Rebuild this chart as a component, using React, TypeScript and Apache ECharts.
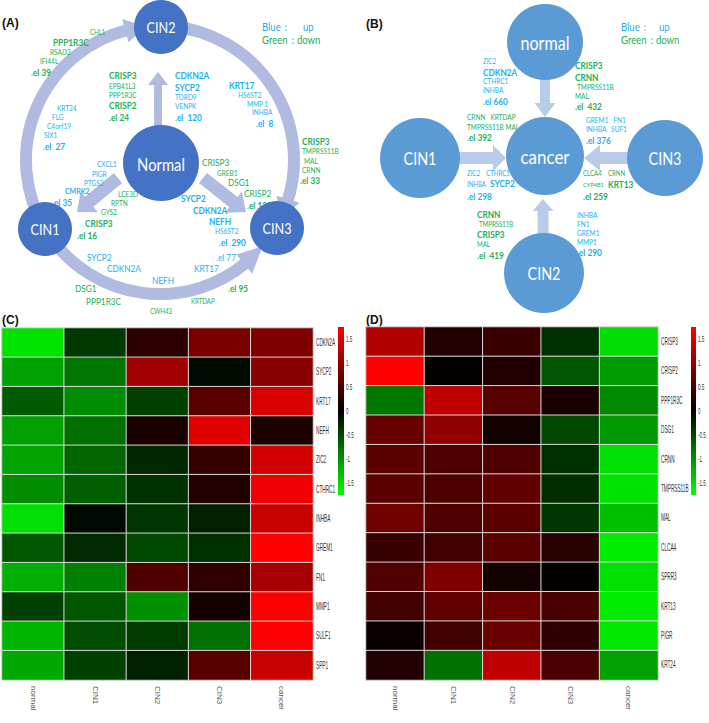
import React, { useEffect, useRef } from "react";
import * as echarts from "echarts";

// ---------- DATA ----------
const stages = ["normal", "CIN1", "CIN2", "CIN3", "cancer"];
const genesC = ["CDKN2A", "SYCP2", "KRT17", "NEFH", "ZIC2", "CTHRC1", "INHBA", "GREM1", "FN1", "MMP1", "SULF1", "SPP1"];
const genesD = ["CRISP3", "CRISP2", "PPP1R3C", "DSG1", "CRNN", "TMPRSS11B", "MAL", "CLCA4", "SPRR3", "KRT13", "PIGR", "KRT24"];
// rows follow genes, columns follow stages
const valuesC = [
  [-1.55, -0.4, 0.3, 0.84, 0.88],
  [-1.1, -0.82, 1.1, -0.07, 0.93],
  [-0.62, -0.96, -0.44, 0.62, 1.48],
  [-1.1, -0.77, 0.18, 1.54, 0.2],
  [-1.12, -0.71, -0.27, 0.38, 1.44],
  [-0.96, -0.66, -0.33, 0.22, 1.65],
  [-1.54, -0.07, -0.38, -0.22, 1.37],
  [-0.6, -0.29, -0.5, -0.33, 1.75],
  [-1.2, -0.88, 0.55, 0.33, 1.15],
  [-0.44, -0.6, -0.99, 0.14, 1.72],
  [-1.24, -0.52, -0.41, -0.77, 1.75],
  [-1.15, -0.44, -0.22, 0.6, 1.37],
];
const valuesD = [
  [1.21, 0.22, 0.4, -0.33, -1.51],
  [1.75, 0.03, 0.22, -0.6, -1.07],
  [-0.82, 1.32, 0.6, 0.18, -0.93],
  [0.69, 0.99, 0.11, -0.49, -1.04],
  [0.62, 0.55, 0.55, -0.33, -1.54],
  [0.62, 0.52, 0.66, -0.3, -1.56],
  [0.77, 0.55, 0.62, -0.38, -1.32],
  [0.4, 0.44, 0.62, 0.27, -1.62],
  [0.55, 0.88, 0.14, 0.02, -1.54],
  [0.44, 0.66, 0.73, 0.51, -1.62],
  [0.07, 0.44, 0.73, 0.33, -1.59],
  [0.22, -0.77, 1.32, 0.51, -1.1],
];
const colorbarTicks = [-1.5, -1, -0.5, 0, 0.5, 1, 1.5];
const colorMin = -1.75;
const colorMax = 1.75;

// ---------- STYLE ----------
const BLUE = "#1CB0EE";
const GREEN = "#22B05A";
const FONT = "Lato, 'Open Sans', sans-serif";
const ARIAL = "'Liberation Sans', Arial, sans-serif";
const A_CIRCLE = "#4472C4";
const B_CIRCLE = "#5B9BD5";
const A_ARROW = "#B1BBE1";
const B_ARROW = "#B8CCEA";
const SQ = 0.87; // horizontal squeeze to imitate a narrower face

function txt(text: string, x: number, y: number, color: string, size: number, bold = false, align = "left") {
  return {
    type: "text",
    x,
    y,
    scaleX: SQ,
    silent: true,
    style: {
      text,
      fill: color,
      fontSize: size,
      fontWeight: bold ? "bold" : "normal",
      fontFamily: FONT,
      align,
      verticalAlign: "middle",
    },
  };
}

function narrow(text: string, x: number, y: number, size: number, sx: number, color = "#333") {
  return {
    type: "text",
    x,
    y,
    scaleX: sx,
    silent: true,
    style: { text, fill: color, fontSize: size, fontFamily: ARIAL, align: "left", verticalAlign: "middle" },
  };
}

function circle(cx: number, cy: number, r: number, color: string, label: string, size: number) {
  return [
    { type: "circle", shape: { cx, cy, r }, style: { fill: color }, silent: true },
    txt(label, cx, cy + 1, "#ffffff", size, false, "center"),
  ];
}

function blockArrow(x1: number, y1: number, x2: number, y2: number, sw: number, hw: number, hl: number, color: string) {
  const dx = x2 - x1, dy = y2 - y1, L = Math.hypot(dx, dy);
  const ux = dx / L, uy = dy / L, px = -uy, py = ux;
  const bx = x2 - ux * hl, by = y2 - uy * hl;
  const pts = [
    [x1 + (px * sw) / 2, y1 + (py * sw) / 2],
    [bx + (px * sw) / 2, by + (py * sw) / 2],
    [bx + (px * hw) / 2, by + (py * hw) / 2],
    [x2, y2],
    [bx - (px * hw) / 2, by - (py * hw) / 2],
    [bx - (px * sw) / 2, by - (py * sw) / 2],
    [x1 - (px * sw) / 2, y1 - (py * sw) / 2],
  ];
  return { type: "polygon", shape: { points: pts }, style: { fill: color }, silent: true };
}

const RAD = Math.PI / 180;
function arcBand(cx: number, cy: number, r: number, a1: number, a2: number, w: number, color: string) {
  return {
    type: "arc",
    shape: { cx, cy, r, startAngle: a1 * RAD, endAngle: a2 * RAD, clockwise: true },
    style: { stroke: color, lineWidth: w, fill: null },
    silent: true,
  };
}
function arcHead(cx: number, cy: number, r: number, aBase: number, aTip: number, hw: number, color: string) {
  const p = (a: number, rr: number) => [cx + rr * Math.cos(a * RAD), cy + rr * Math.sin(a * RAD)];
  return {
    type: "polygon",
    shape: { points: [p(aBase, r + hw / 2), p(aTip, r), p(aBase, r - hw / 2)] },
    style: { fill: color },
    silent: true,
  };
}

function buildGraphics() {
  const els: any[] = [];
  // ---- Panel A shapes ----
  const cx = 160, cy = 160, R = 134;
  els.push(arcBand(cx, cy, R, 150, 256, 12, A_ARROW));
  els.push(arcHead(cx, cy, R, 255, 264, 24, A_ARROW));
  els.push(arcBand(cx, cy, R, 275, 378, 12, A_ARROW));
  els.push(arcHead(cx, cy, R, 377, 386, 24, A_ARROW));
  els.push(arcBand(cx, cy, R, 50, 145, 12, A_ARROW));
  els.push(arcHead(cx, cy, R, 51, 40, 25, A_ARROW));
  els.push(blockArrow(158, 126, 158, 72, 8, 20, 13, A_ARROW));
  els.push(blockArrow(118, 178, 77, 212, 13, 27, 16, A_ARROW));
  els.push(blockArrow(203, 178, 246, 212, 13, 27, 16, A_ARROW));
  // ---- Panel B shapes ----
  els.push(blockArrow(545, 78, 545, 117, 10, 21, 14, B_ARROW));
  els.push(blockArrow(459, 158, 506, 158, 12, 26, 13, B_ARROW));
  els.push(blockArrow(630, 158, 584, 158, 12, 26, 16, B_ARROW));
  els.push(blockArrow(543, 236, 543, 199, 11, 21, 12, B_ARROW));

  // ---- Panel A texts ----
  const T = (t: string, x: number, y: number, c: string, s: number, b = false) => els.push(txt(t, x, y, c, s, b));
  els.push({ type: "text", x: 2, y: 23, silent: true, style: { text: "(A)", fill: "#111", fontSize: 12, fontWeight: "bold", fontFamily: ARIAL, verticalAlign: "middle" } });
  T("Blue：", 262, 27, BLUE, 11); T("up", 303, 27, BLUE, 11);
  T("Green：down", 262, 40, GREEN, 11);
  T("CHL1", 90, 32, GREEN, 7); T("PPP1R3C", 53, 42, GREEN, 9.5, true); T("RSAD2", 50, 52, GREEN, 7.5);
  T("IFI44L", 40, 61, GREEN, 7.5); T(".el 39", 31, 72, GREEN, 9.5, true);
  T("KRT24", 57, 108, BLUE, 7.5); T("FLG", 52, 117, BLUE, 7.5); T("C4orf19", 47, 126, BLUE, 7.5);
  T("SIX1", 44, 135, BLUE, 7.5); T(".el  27", 43, 146, BLUE, 9.5, true);
  T("CRISP3", 109, 75, GREEN, 9.5, true); T("EPB41L3", 109, 86, GREEN, 7.5); T("PPP1R3C", 109, 95, GREEN, 7.5);
  T("CRISP2", 109, 105, GREEN, 9.5, true); T(".el 24", 109, 117, GREEN, 9.5, true);
  T("CDKN2A", 175, 75, BLUE, 9.5, true); T("SYCP2", 175, 87, BLUE, 9.5, true); T("TDRD9", 175, 97, BLUE, 7.5);
  T("VENPK", 175, 106, BLUE, 7.5); T(".el  120", 175, 117, BLUE, 9.5, true);
  T("KRT17", 229, 85, BLUE, 9.5, true); T("HS6ST2", 238, 95, BLUE, 7.5); T("MMP 1", 247, 104, BLUE, 7.5);
  T("INHBA", 252, 112, BLUE, 7.5); T(".el  8", 256, 123, BLUE, 9.5, true);
  T("CRISP3", 302, 141, GREEN, 9.5, true); T("TMPRSS11B", 302, 151, GREEN, 7.5); T("MAL", 304, 161, GREEN, 7.5);
  T("CRNN", 302, 170, GREEN, 7.5); T(".el 33", 300, 180, GREEN, 9.5, true);
  T("CRISP3", 202, 162, GREEN, 9.5); T("GREB1", 217, 173, GREEN, 7.5); T("DSG1", 228, 182, GREEN, 9.5);
  T("CRISP2", 244, 193, GREEN, 9.5); T(".el 120", 247, 205, GREEN, 9.5, true);
  T("SYCP2", 181, 198, BLUE, 9.5, true); T("CDKN2A", 193, 210, BLUE, 9.5, true); T("NEFH", 209, 221, BLUE, 9.5, true);
  T("HS6ST2", 215, 231, BLUE, 7.5); T(".el  290", 219, 242, BLUE, 9.5, true);
  T(".el 77", 216, 257, BLUE, 9.5); T("KRT17", 194, 268, BLUE, 9.5); T("NEFH", 152, 280, BLUE, 9.5);
  T(".el 95", 228, 288, GREEN, 9.5, true); T("KRTDAP", 191, 301, GREEN, 7); T("CWH43", 150, 311, GREEN, 7);
  T("DSG1", 75, 288, GREEN, 9.5); T("PPP1R3C", 86, 301, GREEN, 9.5);
  T("SYCP2", 87, 257, BLUE, 9.5); T("CDKN2A", 107, 268, BLUE, 9.5);
  T("CXCL1", 97, 164, BLUE, 7.5); T("PIGR", 92, 174, BLUE, 7.5); T("PTGS2", 84, 183, BLUE, 7.5);
  T("CMRK2", 65, 191, BLUE, 8, true); T(".el 35", 52, 202, BLUE, 9.5, true);
  T("LCE3D", 118, 194, GREEN, 7.5); T("RPTN", 111, 203, GREEN, 7.5); T("GYS2", 101, 212, GREEN, 7.5);
  T("CRISP3", 85, 223, GREEN, 9.5, true); T(".el 16", 77, 235, GREEN, 9.5, true);

  // ---- Panel B texts ----
  els.push({ type: "text", x: 366, y: 24, silent: true, style: { text: "(B)", fill: "#111", fontSize: 12, fontWeight: "bold", fontFamily: ARIAL, verticalAlign: "middle" } });
  T("Blue：", 621, 27, BLUE, 11); T("up", 659, 27, BLUE, 11);
  T("Green：down", 621, 40, GREEN, 11);
  T("ZIC2", 483, 61, BLUE, 7); T("CDKN2A", 483, 72, BLUE, 9.5, true); T("CTHRC1", 483, 81, BLUE, 7.5);
  T("INHBA", 483, 90, BLUE, 7.5); T(".el 660", 483, 101, BLUE, 9.5, true);
  T("CRNN   KRTDAP", 467, 117, GREEN, 7.5); T("TMPRSS11B MAL", 467, 127, GREEN, 7.5); T(".el 392", 467, 137, GREEN, 9.5, true);
  T("CRISP3", 575, 65, GREEN, 9.5, true); T("CRNN", 575, 77, GREEN, 9.5, true); T("TMPRSS11B", 577, 87, GREEN, 7.5);
  T("MAL", 575, 96, GREEN, 7.5); T(".el  432", 575, 106, GREEN, 9.5, true);
  T("GREM1   FN1", 586, 120, BLUE, 7.5); T("INHBA   SUF1", 586, 129, BLUE, 7.5); T(".el 376", 586, 140, BLUE, 9.5, true);
  T("ZIC2    CTHRC1", 467, 173, BLUE, 7); T("INHBA", 467, 184, BLUE, 7); T("SYCP2", 490, 183, BLUE, 9.5, true);
  T(".el 298", 467, 196, BLUE, 9.5, true);
  T("CLCA4    CRNN", 583, 173, GREEN, 7); T("CYP4B1", 583, 184, GREEN, 6.5); T("KRT13", 608, 184, GREEN, 9.5, true);
  T(".el 259", 583, 196, GREEN, 9.5, true);
  T("INHBA", 577, 215, BLUE, 7.5); T("FN1", 577, 224, BLUE, 7.5); T("GREM1", 577, 233, BLUE, 7.5); T("MMP1", 577, 242, BLUE, 7.5);
  T(".el 290", 577, 252, BLUE, 9.5, true);
  T("CRNN", 477, 214, GREEN, 9.5, true); T("TMPRSS11B", 479, 224, GREEN, 7); T("CRISP3", 477, 234, GREEN, 9.5, true);
  T("MAL", 477, 244, GREEN, 7); T(".el  419", 477, 255, GREEN, 9.5, true);

  // ---- circles (on top) ----
  els.push(...circle(161, 27, 27, A_CIRCLE, "CIN2", 14.5));
  els.push(...circle(161, 163, 38, A_CIRCLE, "Normal", 17));
  els.push(...circle(45, 229, 27, A_CIRCLE, "CIN1", 14.5));
  els.push(...circle(277, 228, 27, A_CIRCLE, "CIN3", 14.5));
  els.push(...circle(545, 42, 38, B_CIRCLE, "normal", 18.5));
  els.push(...circle(545, 156, 39, B_CIRCLE, "cancer", 19.5));
  els.push(...circle(420, 158, 40, B_CIRCLE, "CIN1", 16.5));
  els.push(...circle(665, 158, 38, B_CIRCLE, "CIN3", 16.5));
  els.push(...circle(544, 273, 40, B_CIRCLE, "CIN2", 16.5));

  // ---- heatmap panel labels and colour bars ----
  els.push({ type: "text", x: 2, y: 320, silent: true, style: { text: "(C)", fill: "#111", fontSize: 12, fontWeight: "bold", fontFamily: ARIAL, verticalAlign: "middle" } });
  els.push({ type: "text", x: 366, y: 320, silent: true, style: { text: "(D)", fill: "#111", fontSize: 12, fontWeight: "bold", fontFamily: ARIAL, verticalAlign: "middle" } });
  const grad = () =>
    new echarts.graphic.LinearGradient(0, 0, 0, 1, [
      { offset: 0, color: "#ff0000" },
      { offset: 0.5, color: "#000000" },
      { offset: 1, color: "#00ff00" },
    ]);
  els.push({ type: "rect", shape: { x: 338, y: 327, width: 6, height: 168 }, style: { fill: grad() }, silent: true });
  els.push({ type: "rect", shape: { x: 691, y: 327, width: 5, height: 168 }, style: { fill: grad() }, silent: true });
  return els;
}

function toCells(values: number[][]) {
  const out: any[] = [];
  values.forEach((row, r) => row.forEach((v, c) => out.push([c, r, v])));
  return out;
}

export default function App() {
  const ref = useRef<HTMLDivElement>(null);
  useEffect(() => {
    if (!ref.current) return;
    const chart = echarts.init(ref.current, null, { renderer: "svg" });
    const catX = (gi: number) => ({
      type: "category",
      gridIndex: gi,
      data: stages,
      position: "bottom",
      axisLine: { show: false },
      axisTick: { show: false },
      splitLine: { show: false },
      axisLabel: { rotate: -90, fontSize: 8, color: "#555", margin: 6, fontFamily: ARIAL },
    });
    const catY = (gi: number, genes: string[]) => ({
      type: "category",
      gridIndex: gi,
      data: genes,
      inverse: true,
      position: "right",
      axisLine: { show: false },
      axisTick: { show: false },
      splitLine: { show: false },
      axisLabel: { show: false },
    });
    const cbY = (gi: number) => ({
      type: "value",
      gridIndex: gi,
      min: colorMin,
      max: colorMax,
      position: "right",
      splitLine: { show: false },
      axisLine: { show: false },
      axisTick: { show: false },
      axisLabel: { show: false },
    });
    const option: any = {
      animation: false,
      backgroundColor: "#ffffff",
      grid: [
        { left: 2, top: 328, width: 311, height: 352 },
        { left: 366, top: 327, width: 292, height: 353 },
        { left: 338, top: 327, width: 6, height: 168 },
        { left: 691, top: 327, width: 5, height: 168 },
      ],
      xAxis: [catX(0), catX(1), { type: "value", gridIndex: 2, show: false }, { type: "value", gridIndex: 3, show: false }],
      yAxis: [catY(0, genesC), catY(1, genesD), cbY(2), cbY(3)],
      visualMap: [
        { show: false, seriesIndex: 0, min: colorMin, max: colorMax, inRange: { color: ["#00ff00", "#000000", "#ff0000"] } },
        { show: false, seriesIndex: 1, min: colorMin, max: colorMax, inRange: { color: ["#00ff00", "#000000", "#ff0000"] } },
      ],
      series: [
        { type: "heatmap", xAxisIndex: 0, yAxisIndex: 0, data: toCells(valuesC), itemStyle: { borderColor: "#d9d9d9", borderWidth: 1 } },
        { type: "heatmap", xAxisIndex: 1, yAxisIndex: 1, data: toCells(valuesD), itemStyle: { borderColor: "#d9d9d9", borderWidth: 1 } },
      ],
    };
    chart.setOption(option);

    // Narrow (condensed) labels placed through the axes' own scales
    const labels: any[] = [];
    genesC.forEach((g, i) => {
      const y = chart.convertToPixel({ yAxisIndex: 0 } as any, i as any) as unknown as number;
      labels.push(narrow(g, 316, y, 10, 0.47));
    });
    genesD.forEach((g, i) => {
      const y = chart.convertToPixel({ yAxisIndex: 1 } as any, i as any) as unknown as number;
      labels.push(narrow(g, 661, y, 10, 0.47));
    });
    colorbarTicks.forEach((v) => {
      const y1 = chart.convertToPixel({ yAxisIndex: 2 } as any, v as any) as unknown as number;
      const y2 = chart.convertToPixel({ yAxisIndex: 3 } as any, v as any) as unknown as number;
      labels.push(narrow(String(v), 346, y1, 9, 0.5));
      labels.push(narrow(String(v), 698, y2, 9, 0.5));
    });
    chart.setOption({ graphic: { elements: buildGraphics().concat(labels) } });
    return () => chart.dispose();
  }, []);
  return <div ref={ref} style={{ position: "absolute", left: 0, top: 0, width: 709, height: 723 }} />;
}
